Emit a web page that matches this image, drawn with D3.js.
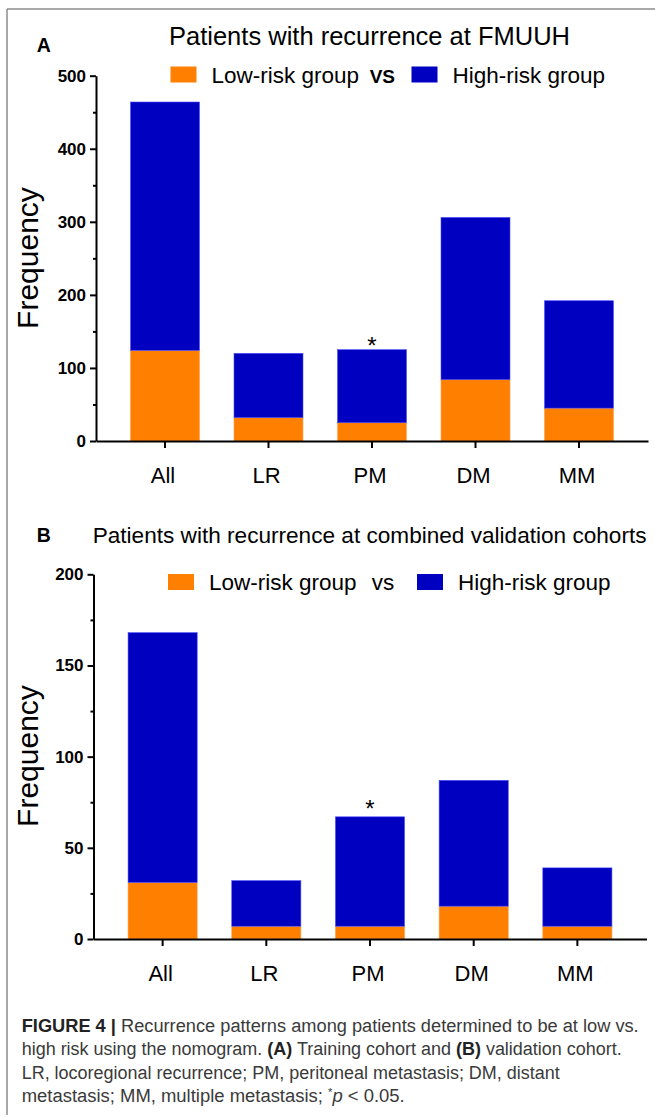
<!DOCTYPE html>
<html>
<head>
<meta charset="utf-8">
<script src="https://cdn.jsdelivr.net/npm/d3@7"></script>
<style>
  html, body { margin: 0; padding: 0; background: #fff; }
  svg { display: block; font-family: "Liberation Sans", Arial, sans-serif; }
</style>
</head>
<body>
<div id="chart"></div>
<script>
// data
const categories = ["All", "LR", "PM", "DM", "MM"];
const seriesNames = ["Low-risk group", "High-risk group"];
const lowA = [124, 32, 25, 84, 45];
const highA = [340, 88, 100, 222, 147];
const lowB = [31, 7, 7, 18, 7];
const highB = [137, 25, 60, 69, 32];
const starredA = ["PM"];
const starredB = ["PM"];
const ticksA = [0, 100, 200, 300, 400, 500];
const minorA = [50, 150, 250, 350, 450];
const ticksB = [0, 50, 100, 150, 200];
const minorB = [25, 75, 125, 175];

const W = 655, H = 1118;
const FONT = '"Liberation Sans", Arial, sans-serif';
const ORANGE = "#ff7f00", BLUE = "#0000c0";

const svg = d3.select("#chart").append("svg").attr("width", W).attr("height", H);

// frame (top + left rule)
svg.append("line").attr("x1", 7).attr("y1", 9).attr("x2", W).attr("y2", 9)
  .attr("stroke", "#8c8c8c").attr("stroke-width", 1.5);
svg.append("line").attr("x1", 7).attr("y1", 9).attr("x2", 7).attr("y2", 1115)
  .attr("stroke", "#8c8c8c").attr("stroke-width", 1.5);

function panel(opt) {
  const g = svg.append("g");
  const x = d3.scaleBand().domain(categories).range(opt.xr).paddingInner(1/3).paddingOuter(1/3);
  const y = d3.scaleLinear().domain([0, opt.max]).range(opt.yr);

  const rows = categories.map((c, i) => ({ cat: c, low: opt.low[i], high: opt.high[i] }));
  const stack = d3.stack().keys(["low", "high"])(rows);
  const fills = { low: ORANGE, high: BLUE };
  const edges = { low: "#ffa24a", high: "#4d4dff" };

  g.selectAll("g.layer").data(stack).join("g").attr("class", "layer")
    .attr("fill", d => fills[d.key]).attr("stroke", d => edges[d.key]).attr("stroke-width", 0.6)
    .selectAll("rect").data(d => d).join("rect")
    .attr("x", d => x(d.data.cat)).attr("width", x.bandwidth())
    .attr("y", d => y(d[1])).attr("height", d => y(d[0]) - y(d[1]));

  // axes
  const yAxis = g.append("g").attr("transform", `translate(${opt.xr[0]},0)`)
    .call(d3.axisLeft(y).tickValues(opt.ticks).tickSize(6).tickSizeOuter(0).tickPadding(4));
  yAxis.attr("font-family", FONT);
  yAxis.selectAll("text").attr("font-size", 17).attr("font-weight", 700).attr("fill", "#000");
  g.append("g").attr("transform", `translate(${opt.xr[0]},0)`)
    .call(d3.axisLeft(y).tickValues(opt.minor).tickSize(3).tickSizeOuter(0).tickFormat(""))
    .call(a => a.select(".domain").remove());

  const xAxis = g.append("g").attr("transform", `translate(0,${opt.yr[0]})`)
    .call(d3.axisBottom(x).tickSize(7).tickSizeOuter(0).tickPadding(19));
  xAxis.attr("font-family", FONT);
  xAxis.selectAll("text").attr("font-size", 22).attr("fill", "#000").attr("dx", -2);

  g.selectAll(".domain, .tick line").attr("stroke", "#000").attr("stroke-width", 2);

  // significance marks
  g.selectAll("text.star").data(rows.filter(r => opt.starred.includes(r.cat))).join("text")
    .attr("class", "star")
    .attr("x", d => x(d.cat) + x.bandwidth() / 2)
    .attr("y", d => y(d.low + d.high) - opt.starGap + 14)
    .attr("text-anchor", "middle").attr("font-size", 24).text("*");

  // y label
  g.append("text").attr("transform", `translate(38,${opt.freqY}) rotate(-90)`)
    .attr("text-anchor", "middle").attr("font-size", 30).text("Frequency");

  // panel letter + title
  g.append("text").attr("x", 36.7).attr("y", opt.letterY).attr("font-size", 19.5)
    .attr("font-weight", 700).text(opt.letter);
  g.append("text").attr("x", opt.titleX).attr("y", opt.titleY).attr("font-size", opt.titleSize)
    .text(opt.title);

  // legend
  const L = opt.legend;
  g.append("rect").attr("x", L.x0).attr("y", L.y - 16).attr("width", 26).attr("height", 16).attr("fill", ORANGE);
  g.append("text").attr("x", L.x0 + 41).attr("y", L.y).attr("font-size", 22.5).text(seriesNames[0]);
  g.append("text").attr("x", L.vsX).attr("y", L.y).attr("font-size", L.vsBold ? 19 : 22.5)
    .attr("font-weight", L.vsBold ? 700 : 400).text(L.vs);
  g.append("rect").attr("x", L.x1).attr("y", L.y - 16).attr("width", 26).attr("height", 16).attr("fill", BLUE);
  g.append("text").attr("x", L.x1 + 41).attr("y", L.y).attr("font-size", 22.5).text(seriesNames[1]);
}

panel({
  letter: "A", letterY: 52.3, title: "Patients with recurrence at FMUUH", titleX: 169, titleY: 44.5, titleSize: 25.5,
  low: lowA, high: highA, max: 500, ticks: ticksA, minor: minorA, starred: starredA,
  xr: [96, 648], yr: [441, 75.7], freqY: 258, starGap: 10,
  legend: { x0: 170.5, x1: 411.5, y: 82.5, vsX: 369.7, vs: "VS", vsBold: true }
});

panel({
  letter: "B", letterY: 542, title: "Patients with recurrence at combined validation cohorts", titleX: 92.7, titleY: 543, titleSize: 22.6,
  low: lowB, high: highB, max: 200, ticks: ticksB, minor: minorB, starred: starredB,
  xr: [93.5, 646.5], yr: [939, 574.3], freqY: 756, starGap: 14,
  legend: { x0: 168, x1: 417, y: 590, vsX: 371.8, vs: "vs", vsBold: false }
});

// caption
const cap = svg.append("g").attr("font-size", 18).attr("fill", "#3a3a3a");
const capLines = [
  [["FIGURE 4 |", "b"], [" Recurrence patterns among patients determined to be at low vs.", ""]],
  [["high risk using the nomogram. ", ""], ["(A)", "b"], [" Training cohort and ", ""], ["(B)", "b"], [" validation cohort.", ""]],
  [["LR, locoregional recurrence; PM, peritoneal metastasis; DM, distant", ""]],
  [["metastasis; MM, multiple metastasis; ", ""], ["*", "sup"], ["p", "i"], [" < 0.05.", ""]]
];
const capBase = [1031.5, 1055, 1078.5, 1102];
const capWidth = [617, 600, 538, 383];
capLines.forEach((parts, i) => {
  const t = cap.append("text").attr("x", 21.7).attr("y", capBase[i])
    .attr("textLength", capWidth[i]).attr("lengthAdjust", "spacingAndGlyphs");
  parts.forEach(([s, st]) => {
    const sp = t.append("tspan").text(s);
    if (st === "b") sp.attr("font-weight", 700).attr("fill", "#222");
    if (st === "i") sp.attr("font-style", "italic").attr("dy", 6);
    if (st === "sup") sp.attr("font-size", 11).attr("dy", -6);
  });
});
</script>
</body>
</html>
